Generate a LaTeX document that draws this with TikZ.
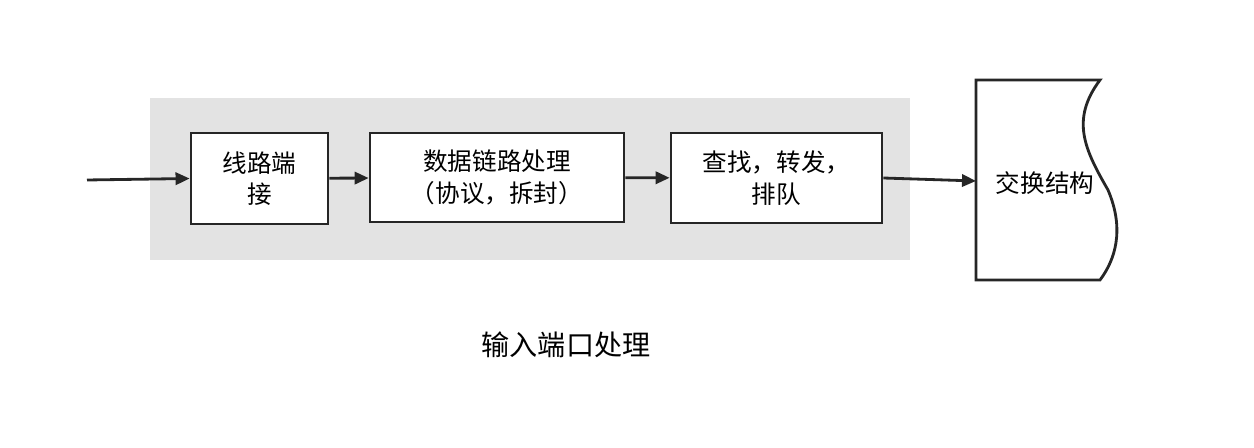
\documentclass[tikz,border=0pt]{standalone}
\usepackage{fontspec}
\setmainfont{Noto Sans CJK SC}
\usetikzlibrary{arrows.meta}
\begin{document}
\begin{tikzpicture}[x=0.02cm,y=-0.02cm,
  box/.style={draw=black!85,fill=white,line width=1.6pt,align=center,font=\fontsize{14}{18}\selectfont,inner sep=0pt},
  arr/.style={line width=1.6pt,draw=black!85,-{Triangle[length=8pt,width=7pt]}}]
\useasboundingbox (0,0) rectangle (1254,448);
\fill[black!11] (150,98) rectangle (910,260);
\node[box,minimum width=2.74cm,minimum height=1.82cm] (b1) at (259.5,178.5) {线路端\\接};
\node[box,minimum width=5.08cm,minimum height=1.78cm] (b2) at (497,177.5) {数据链路处理\\（协议，拆封）};
\node[box,minimum width=4.22cm,minimum height=1.8cm] (b3) at (776.5,178) {查找，转发，\\排队};
\coordinate (s) at (87,180);
\draw[line width=1.6pt,draw=black!85,fill=white] (976,80) -- (1100,80) .. controls (1070,120) and (1085,150) .. (1108,190) .. controls (1125,230) and (1115,260) .. (1100,280) -- (976,280) -- cycle;
\node[font=\fontsize{14}{18}\selectfont] (sw) at (1045,183) {交换结构};
\coordinate (swl) at (976,181);
\draw[arr] (s) -- (b1.west);
\draw[arr] (b1) -- (b2);
\draw[arr] (b2) -- (b3);
\draw[arr] (b3.east) -- (swl);
\node[font=\fontsize{16}{18}\selectfont] (t) at (566,345) {输入端口处理};
\end{tikzpicture}
\end{document}
